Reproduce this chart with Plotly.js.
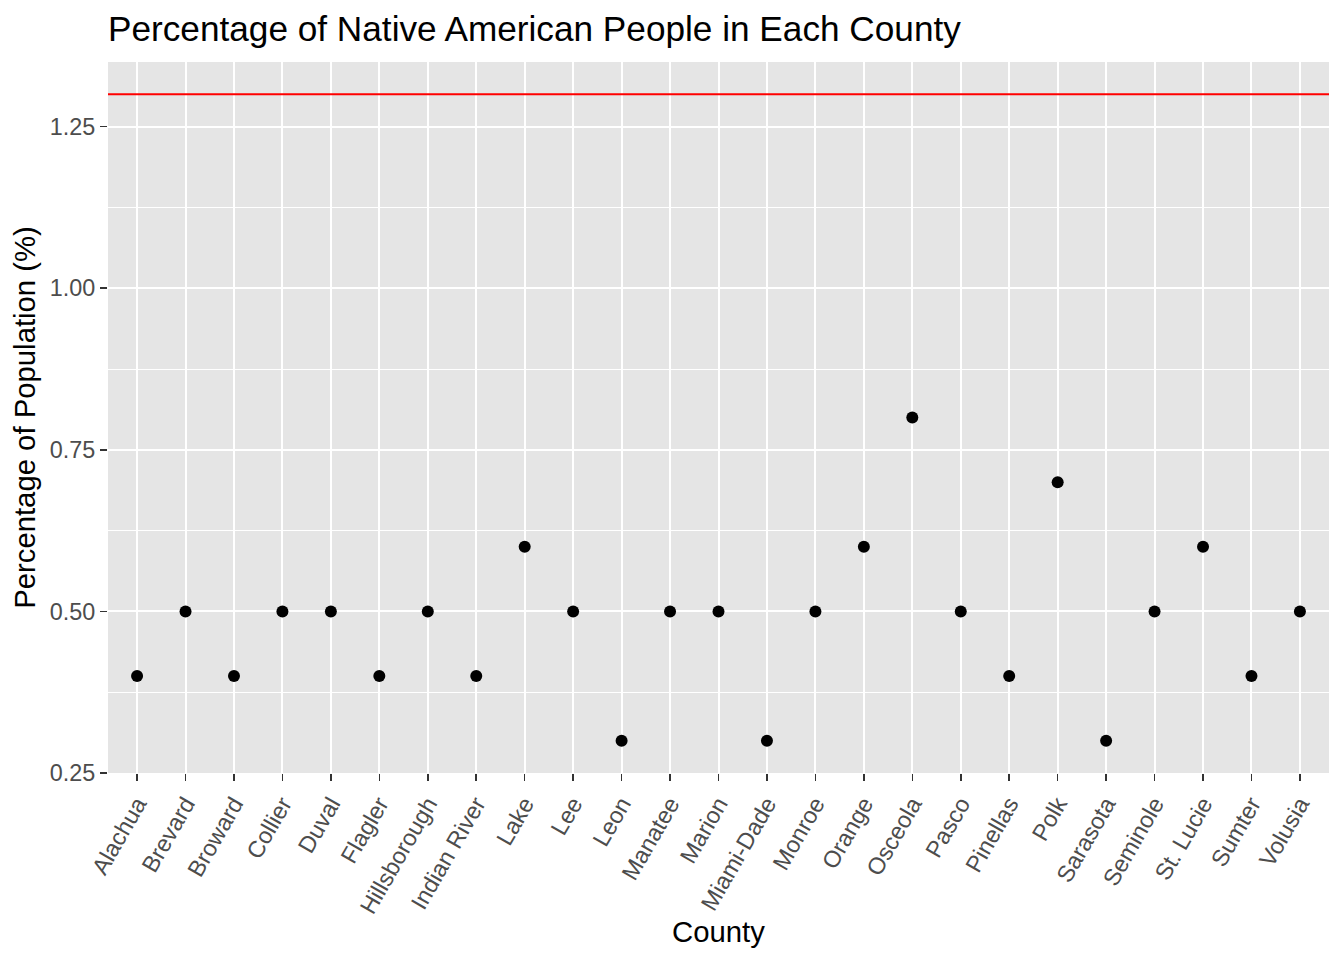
<!DOCTYPE html>
<html>
<head>
<meta charset="utf-8">
<script src="https://cdn.plot.ly/plotly-3.0.1.min.js"></script>
<style>html,body{margin:0;padding:0;background:#fff;}#chart{width:1344px;height:960px;}</style>
</head>
<body>
<div id="chart"></div>
<script>
const counties = ["Alachua","Brevard","Broward","Collier","Duval","Flagler","Hillsborough","Indian River","Lake","Lee","Leon","Manatee","Marion","Miami-Dade","Monroe","Orange","Osceola","Pasco","Pinellas","Polk","Sarasota","Seminole","St. Lucie","Sumter","Volusia"];
const pctNative = [0.4,0.5,0.4,0.5,0.5,0.4,0.5,0.4,0.6,0.5,0.3,0.5,0.5,0.3,0.5,0.6,0.8,0.5,0.4,0.7,0.3,0.5,0.6,0.4,0.5];
const referenceLine = 1.3;
const yTicks = [0.25,0.5,0.75,1.0,1.25];
const yTickLabels = ["0.25","0.50","0.75","1.00","1.25"];

const font = "Liberation Sans, Arial, Helvetica, sans-serif";

const trace = {
  type: "scatter", mode: "markers",
  x: counties, y: pctNative,
  marker: {color: "#000000", size: 12},
  hoverinfo: "x+y", showlegend: false
};

const layout = {
  width: 1344, height: 960,
  margin: {l: 108, r: 15, t: 62, b: 187, pad: 0},
  paper_bgcolor: "#ffffff", plot_bgcolor: "#e5e5e5",
  font: {family: font, color: "#000000"},
  title: {text: "Percentage of Native American People in Each County", font: {family: font, size: 35.2, color: "#000000"},
          x: 0, xref: "paper", xanchor: "left", y: 1 - 29/960, yref: "container", yanchor: "middle"},
  xaxis: {
    type: "category", range: [-0.6, counties.length - 0.4],
    showgrid: true, gridcolor: "#ffffff", gridwidth: 2,
    zeroline: false, showline: false,
    ticks: "outside", ticklen: 7, tickwidth: 1.5, tickcolor: "#333333",
    tickangle: -60, tickfont: {family: font, size: 23.4, color: "#4d4d4d"},
    title: {text: "County", font: {family: font, size: 29.3, color: "#000000"}, standoff: 2},
    automargin: false, fixedrange: true
  },
  yaxis: {
    range: [0.25, 1.35],
    tickvals: yTicks, ticktext: yTickLabels,
    showgrid: true, gridcolor: "#ffffff", gridwidth: 2,
    minor: {dtick: 0.125, tick0: 0.25, showgrid: true, gridcolor: "#ffffff", gridwidth: 1, ticks: ""},
    zeroline: false, showline: false,
    ticks: "outside", ticklen: 7, tickwidth: 1.5, tickcolor: "#333333",
    tickfont: {family: font, size: 23.4, color: "#4d4d4d"},
    title: {text: "Percentage of Population (%)", font: {family: font, size: 29.3, color: "#000000"}, standoff: 5},
    automargin: false, fixedrange: true
  },
  shapes: [{type: "line", xref: "paper", x0: 0, x1: 1, yref: "y", y0: referenceLine, y1: referenceLine,
            line: {color: "#ff0000", width: 2}, layer: "above"}]
};

Plotly.newPlot("chart", [trace], layout, {displayModeBar: false, staticPlot: true});
</script>
</body>
</html>
